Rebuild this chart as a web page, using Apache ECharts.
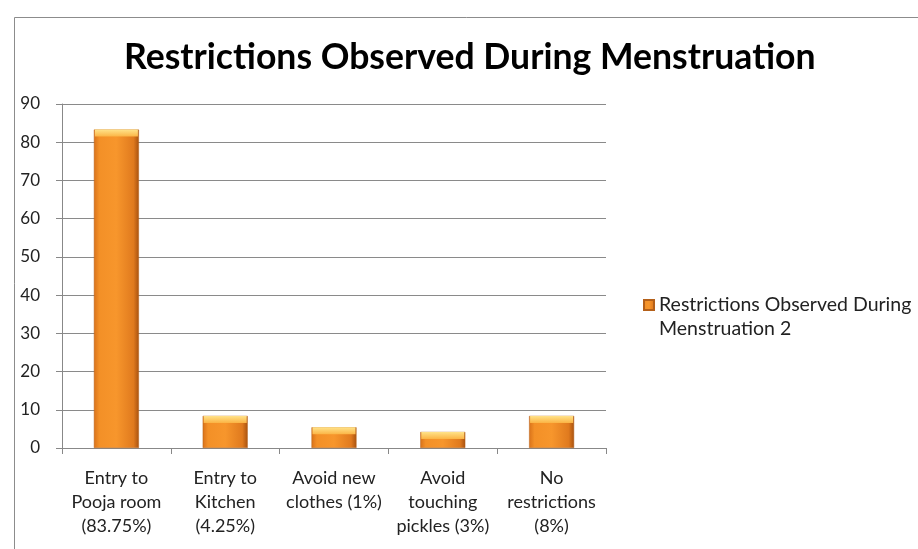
<!DOCTYPE html>
<html><head><meta charset="utf-8">
<script src="https://cdn.jsdelivr.net/npm/echarts@6/dist/echarts.min.js"></script>
<style>html,body{margin:0;padding:0;background:#fff}#c{width:918px;height:549px}</style>
</head><body><div id="c"></div>
<script>
const categories = ['Entry to\nPooja room\n(83.75%)', 'Entry to\nKitchen\n(4.25%)', 'Avoid new\nclothes (1%)', 'Avoid\ntouching\npickles (3%)', 'No\nrestrictions\n(8%)'];
const values = [83.3, 8.4, 5.4, 4.2, 8.4];
const yTicks = { min: 0, max: 90, interval: 10 };
const seriesName = 'Restrictions Observed During\nMenstruation 2';
const titleText = 'Restrictions Observed During Menstruation';

const chart = echarts.init(document.getElementById('c'), null, { renderer: 'canvas' });
const font = 'Lato, "Open Sans", sans-serif';
chart.setOption({
  animation: false,
  backgroundColor: '#fff',
  graphic: [{ type: 'rect', left: 12, top: 15, shape: { width: 930, height: 560 }, style: { fill: 'none', stroke: '#8c8c8c', lineWidth: 1 }, silent: true }],
  title: { text: titleText, left: 119, top: 35, textStyle: { fontFamily: font, fontSize: 35.6, fontWeight: 'bold', color: '#000' } },
  legend: {
    data: [seriesName], left: 638, top: 288, orient: 'vertical', itemWidth: 10, itemHeight: 34, itemGap: 8,
    icon: 'path://M0,0h10v10h-10z M0,34L0,34',
    textStyle: { fontFamily: font, fontSize: 19.5, color: '#222', lineHeight: 24 }
  },
  grid: { left: 62, top: 104, right: 312, bottom: 101 },
  xAxis: {
    type: 'category', data: categories,
    axisLine: { lineStyle: { color: '#888' } },
    axisTick: { show: true, length: 6, lineStyle: { color: '#888' } },
    axisLabel: { fontFamily: font, fontSize: 18, color: '#222', lineHeight: 24, margin: 18, interval: 0 }
  },
  yAxis: {
    type: 'value', min: yTicks.min, max: yTicks.max, interval: yTicks.interval,
    axisLine: { show: true, lineStyle: { color: '#888' } },
    axisTick: { show: true, length: 6, lineStyle: { color: '#888' } },
    splitLine: { lineStyle: { color: '#8a8a8a', width: 1 } },
    axisLabel: { fontFamily: font, fontSize: 17, color: '#222', margin: 22 }
  },
  series: [{
    name: seriesName, type: 'bar', data: values, barWidth: 45,
    itemStyle: {
      color: new echarts.graphic.LinearGradient(0, 0, 1, 0, [
        { offset: 0, color: '#d9721a' }, { offset: 0.12, color: '#f39027' },
        { offset: 0.5, color: '#f7962c' }, { offset: 0.88, color: '#e07a1e' }, { offset: 1, color: '#a85210' }
      ]),
      borderColor: '#b4601a', borderWidth: 0.5
    },
    z: 2
  }, {
    name: 'bevel', type: 'pictorialBar', data: values, symbol: 'rect', symbolSize: [43, 7],
    symbolPosition: 'end', symbolOffset: [0, 0], barGap: '-100%',
    itemStyle: { color: new echarts.graphic.LinearGradient(0, 0, 0, 1, [
      { offset: 0, color: '#ffe38a' }, { offset: 1, color: '#fbb445' }
    ]) },
    z: 3, silent: true
  }]
});
</script></body></html>
